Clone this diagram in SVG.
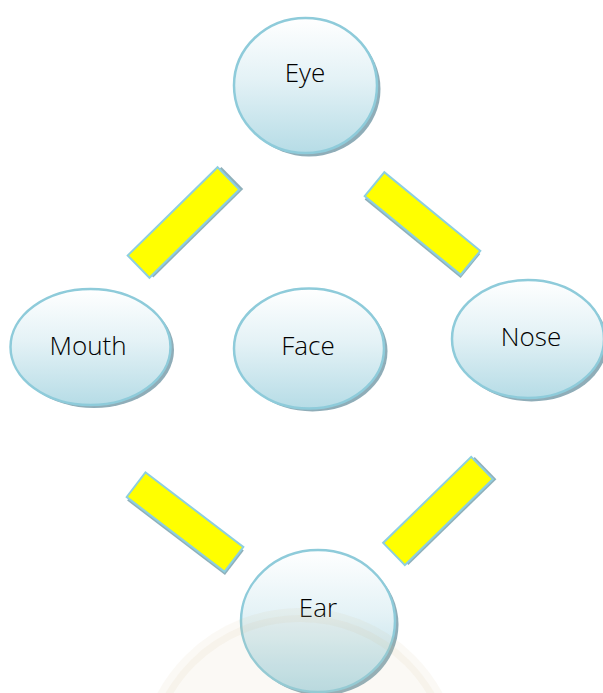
<svg xmlns="http://www.w3.org/2000/svg" width="603" height="693" viewBox="0 0 603 693">
<defs>
<linearGradient id="g" x1="0" y1="0" x2="0" y2="1">
<stop offset="0" stop-color="#ffffff"/>
<stop offset="0.45" stop-color="#e4f2f6"/>
<stop offset="1" stop-color="#b6dce6"/>
</linearGradient>
<style>
.sh{fill:#8fadb8}
.c{fill:url(#g);stroke:#8ecbda;stroke-width:2.5}
.t{font-family:"Open Sans","Liberation Sans",sans-serif;font-weight:300;font-size:26px;fill:#000000;text-anchor:middle}
.bs{fill:#8fb0bb}
.b{fill:#ffff00;stroke:#8ecfe0;stroke-width:2}
</style>
</defs>
<rect width="603" height="693" fill="#ffffff"/>
<g id="connectors">
<g transform="translate(183.5,222.5) rotate(-44.5)"><rect class="bs" x="-60" y="-13" width="126" height="31"/><rect class="b" x="-63" y="-15.5" width="126" height="31"/></g>
<g transform="translate(422.5,223.5) rotate(39.3)"><rect class="bs" x="-60" y="-13" width="124" height="31"/><rect class="b" x="-62" y="-15.5" width="124" height="31"/></g>
<g transform="translate(185,522) rotate(37.3)"><rect class="bs" x="-59" y="-13" width="123" height="31"/><rect class="b" x="-61.5" y="-15.5" width="123" height="31"/></g>
<g transform="translate(438,511) rotate(-44.3)"><rect class="bs" x="-59" y="-13" width="123" height="31"/><rect class="b" x="-61.5" y="-15.5" width="123" height="31"/></g>
</g>
<g id="eye">
<ellipse class="sh" cx="309" cy="89" rx="71.5" ry="67.5"/>
<ellipse class="c" cx="305.5" cy="85.5" rx="71.5" ry="67.5"/>
<text class="t" x="305" y="82">Eye</text>
</g>
<g id="mouth">
<ellipse class="sh" cx="94" cy="350" rx="80" ry="58"/>
<ellipse class="c" cx="90.5" cy="347" rx="80" ry="58"/>
<text class="t" x="88" y="355">Mouth</text>
</g>
<g id="face">
<ellipse class="sh" cx="312.5" cy="351.5" rx="75" ry="60"/>
<ellipse class="c" cx="309" cy="348.5" rx="75" ry="60"/>
<text class="t" x="308" y="355">Face</text>
</g>
<g id="nose">
<ellipse class="sh" cx="531.5" cy="342.5" rx="76" ry="59"/>
<ellipse class="c" cx="528" cy="339" rx="76" ry="59"/>
<text class="t" x="531" y="346">Nose</text>
</g>
<g id="ear">
<ellipse class="sh" cx="321.5" cy="624.5" rx="77" ry="71"/>
<ellipse class="c" cx="318" cy="621" rx="77" ry="71"/>
<text class="t" x="318" y="617">Ear</text>
</g>
<circle cx="300" cy="770" r="155" fill="#d8c79a" fill-opacity="0.1" stroke="#c9b27a" stroke-opacity="0.08" stroke-width="14"/>
</svg>
